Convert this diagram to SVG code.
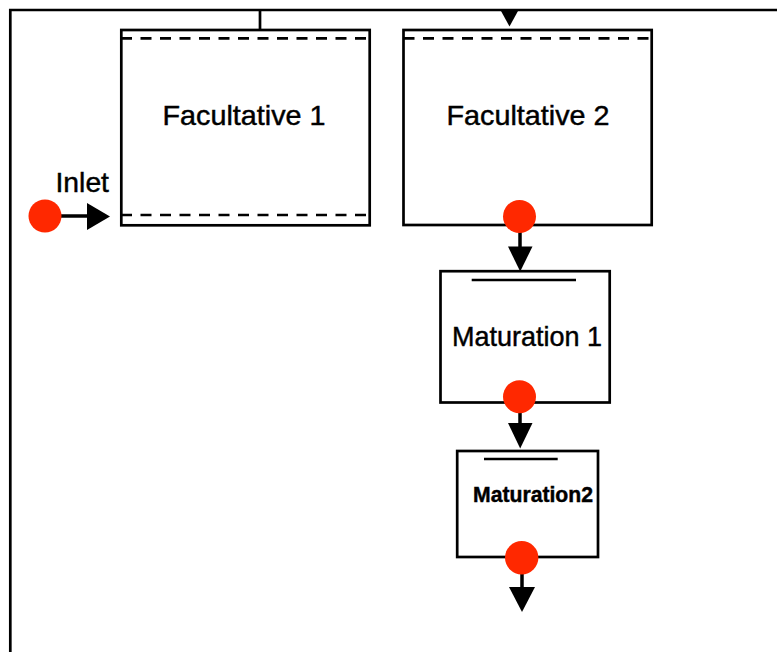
<svg xmlns="http://www.w3.org/2000/svg" width="777" height="652" viewBox="0 0 777 652">
<style>
.box{fill:#fff;stroke:#000;stroke-width:2.7}
.dash{stroke:#000;stroke-width:2.7;stroke-dasharray:11 8.5;fill:none}
.line{stroke:#000;stroke-width:2.7;fill:none}
.wire{stroke:#000;stroke-width:3.5;fill:none}
.dot{fill:#ff2800}
.head{fill:#000}
.lbl{font-family:"Liberation Sans",Arial,sans-serif;fill:#000;stroke:#000;stroke-width:0.45}
</style>
<rect width="777" height="652" fill="#fff"/>
<g id="frame">
<path class="line" d="M10.3,652 V10 H777"/>
</g>
<g id="facultative1">
<rect class="box" x="121.3" y="30" width="248.4" height="195.3"/>
<line class="dash" x1="121" y1="38.3" x2="374" y2="38.3"/>
<line class="dash" x1="121" y1="215" x2="374" y2="215"/>
<text class="lbl" x="244" y="125" font-size="28.5" text-anchor="middle" textLength="163" lengthAdjust="spacingAndGlyphs">Facultative 1</text>
</g>
<g id="facultative2">
<rect class="box" x="403.5" y="30" width="248.2" height="195"/>
<line class="dash" x1="403.5" y1="38.3" x2="652" y2="38.3"/>
<text class="lbl" x="528" y="125" font-size="28.5" text-anchor="middle" textLength="163" lengthAdjust="spacingAndGlyphs">Facultative 2</text>
</g>
<g id="maturation1">
<rect class="box" x="440.5" y="271.2" width="169.2" height="131.3"/>
<line class="line" x1="471.7" y1="280" x2="576" y2="280"/>
<text class="lbl" x="452" y="346" font-size="28.5" textLength="150" lengthAdjust="spacingAndGlyphs">Maturation 1</text>
</g>
<g id="maturation2">
<rect class="box" x="457.2" y="451" width="140.8" height="106"/>
<line class="line" x1="484" y1="459" x2="557.7" y2="459"/>
<text class="lbl" x="473" y="502" font-size="22" font-weight="bold" stroke-width="0.3" textLength="120" lengthAdjust="spacingAndGlyphs">Maturation2</text>
</g>
<g id="inlet">
<text class="lbl" x="55.5" y="192" font-size="28" textLength="53.5" lengthAdjust="spacingAndGlyphs">Inlet</text>
</g>
<g id="connectors">
<line class="line" x1="260" y1="10" x2="260" y2="30"/>
<polygon class="head" points="501,11 518,11 509.5,26.5"/>
<line class="wire" x1="45" y1="216" x2="90" y2="216"/>
<polygon class="head" points="87,203 87,230 110,216.5"/>
<circle class="dot" cx="45" cy="216" r="16.5"/>
<line class="wire" x1="520" y1="216" x2="520" y2="250"/>
<polygon class="head" points="508,246.5 532.5,246.5 520.2,271.5"/>
<circle class="dot" cx="519.5" cy="216.5" r="16.5"/>
<line class="wire" x1="520" y1="397" x2="520" y2="426"/>
<polygon class="head" points="508,423 532.5,423 520.2,448.5"/>
<circle class="dot" cx="519.5" cy="396.7" r="16.5"/>
<line class="wire" x1="522" y1="558" x2="522" y2="590"/>
<polygon class="head" points="509,587 535,587 522,612"/>
<circle class="dot" cx="521.7" cy="557.7" r="16.7"/>
</g>
</svg>
